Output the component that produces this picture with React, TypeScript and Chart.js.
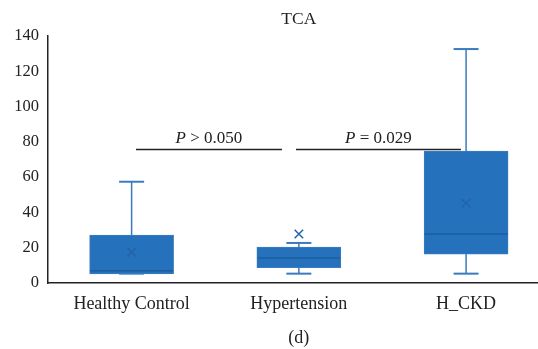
import React, { useEffect, useRef } from "react";
import { Chart, registerables } from "chart.js";

Chart.register(...registerables);

const categories = ["Healthy Control", "Hypertension", "H_CKD"];
const positions = [1, 2, 3];
const whiskerMin = [5.3, 5.3, 5.3];
const q1 = [5.1, 8.7, 16.4];
const median = [7.0, 14.2, 27.8];
const q3 = [27.2, 20.4, 74.8];
const whiskerMax = [57.4, 22.7, 132.6];
const means = [17.4, 27.8, 45.2];

const titleText = "TCA";
const captionText = "(d)";
const yTicks = { min: 0, max: 140, step: 20 };

// significance brackets
const sigLabels = ["> 0.050", "= 0.029"];
const sigXStart = [1.026, 1.983];
const sigXEnd = [1.899, 2.969];
const sigY = [75.6, 75.6];

const SERIF = "'Liberation Serif', 'Times New Roman', serif";
const BOX_FILL = "#2571bb";
const BOX_BORDER = "#3b7cc0";
const WHISKER = "#3a7bbd";
const MEDIAN = "#1d5d9e";
const MEAN = "#2363a8";
const AXIS = "#222222";

function gapped(xs: number[], a: number[], b: number[]) {
  const out: any[] = [];
  xs.forEach((x, i) => {
    out.push({ x, y: a[i] });
    out.push({ x, y: b[i] });
    out.push({ x, y: null });
  });
  return out;
}

const annotPlugin = {
  id: "annot",
  afterDraw(chart: any) {
    const { ctx, scales } = chart;
    const xs = scales.x;
    const ys = scales.y;
    ctx.save();
    ctx.fillStyle = AXIS;
    ctx.font = `17.5px ${SERIF}`;
    ctx.textAlign = "center";
    ctx.textBaseline = "middle";
    const cx = xs.getPixelForValue(2);
    ctx.fillText(titleText, cx, 19);
    ctx.font = `18px ${SERIF}`;
    ctx.fillText(captionText, cx, 338);
    ctx.textBaseline = "alphabetic";
    sigLabels.forEach((lab, i) => {
      const mid = xs.getPixelForValue((sigXStart[i] + sigXEnd[i]) / 2);
      const y = ys.getPixelForValue(sigY[i]) - 7;
      ctx.font = `italic 17px ${SERIF}`;
      const pW = ctx.measureText("P ").width;
      ctx.font = `17px ${SERIF}`;
      const rW = ctx.measureText(lab).width;
      const start = mid - (pW + rW) / 2;
      ctx.textAlign = "left";
      ctx.font = `italic 17px ${SERIF}`;
      ctx.fillText("P ", start, y);
      ctx.font = `17px ${SERIF}`;
      ctx.fillText(lab, start + pW, y);
    });
    ctx.restore();
  },
};

export default function App() {
  const ref = useRef<HTMLCanvasElement | null>(null);
  useEffect(() => {
    if (!ref.current) return;
    const sigData: any[] = [];
    sigXStart.forEach((s, i) => {
      sigData.push({ x: s, y: sigY[i] });
      sigData.push({ x: sigXEnd[i], y: sigY[i] });
      sigData.push({ x: s, y: null });
    });
    const chart = new Chart(ref.current, {
      type: "bar",
      data: {
        datasets: [
          {
            type: "bar",
            data: positions.map((x, i) => ({ x, y: [q1[i], q3[i]] })) as any,
            backgroundColor: BOX_FILL,
            borderColor: BOX_BORDER,
            borderWidth: 1,
            borderSkipped: false,
            barThickness: 84,
            order: 2,
          } as any,
          {
            type: "line",
            data: gapped(positions, q3, whiskerMax).concat(gapped(positions, whiskerMin, q1)),
            borderColor: WHISKER,
            borderWidth: 1.5,
            pointRadius: 0,
            spanGaps: false,
            order: 3,
          } as any,
          {
            type: "scatter",
            data: positions.map((x, i) => ({ x, y: whiskerMax[i] })).concat(
              positions.map((x, i) => ({ x, y: whiskerMin[i] }))
            ),
            pointStyle: "line",
            pointRadius: 12.5,
            borderColor: WHISKER,
            borderWidth: 2,
            order: 3,
          } as any,
          {
            type: "scatter",
            data: positions.map((x, i) => ({ x, y: median[i] })),
            pointStyle: "line",
            pointRadius: 41.5,
            borderColor: MEDIAN,
            borderWidth: 1.5,
            order: 1,
          } as any,
          {
            type: "scatter",
            data: positions.map((x, i) => ({ x, y: means[i] })),
            pointStyle: "crossRot",
            pointRadius: 6,
            borderColor: MEAN,
            borderWidth: 1.5,
            order: 1,
          } as any,
          {
            type: "line",
            data: sigData,
            borderColor: AXIS,
            borderWidth: 1.5,
            pointRadius: 0,
            spanGaps: false,
            order: 0,
          } as any,
        ],
      },
      options: {
        animation: false,
        responsive: true,
        maintainAspectRatio: false,
        layout: { autoPadding: false, padding: { top: 36, left: 0, right: 0, bottom: 0 } },
        plugins: { legend: { display: false }, tooltip: { enabled: false }, title: { display: false } },
        scales: {
          x: {
            type: "linear",
            min: 0.5,
            max: 3.43,
            offset: false,
            grid: { display: false, offset: false, drawTicks: false },
            border: { display: true, color: AXIS, width: 1.5 },
            afterBuildTicks: (scale: any) => {
              scale.ticks = positions.map((v) => ({ value: v }));
            },
            afterFit: (scale: any) => {
              scale.height = 66;
              scale.paddingLeft = 0;
              scale.paddingRight = 0;
            },
            ticks: {
              color: AXIS,
              font: { family: SERIF, size: 18 },
              padding: 10,
              maxRotation: 0,
              autoSkip: false,
              callback: (v: any) => categories[positions.indexOf(Number(v))] ?? "",
            },
          },
          y: {
            min: yTicks.min,
            max: yTicks.max,
            grid: { display: false, drawTicks: false },
            border: { display: true, color: AXIS, width: 1.5 },
            afterFit: (scale: any) => {
              scale.width = 48;
              scale.paddingTop = 0;
              scale.paddingBottom = 0;
            },
            ticks: {
              stepSize: yTicks.step,
              color: AXIS,
              padding: 9,
              font: { family: SERIF, size: 16.5 },
            },
          },
        },
      },
      plugins: [annotPlugin],
    });
    return () => chart.destroy();
  }, []);
  return (
    <div style={{ position: "fixed", left: 0, top: 0, width: 538, height: 349, background: "#fff" }}>
      <canvas ref={ref} />
    </div>
  );
}
